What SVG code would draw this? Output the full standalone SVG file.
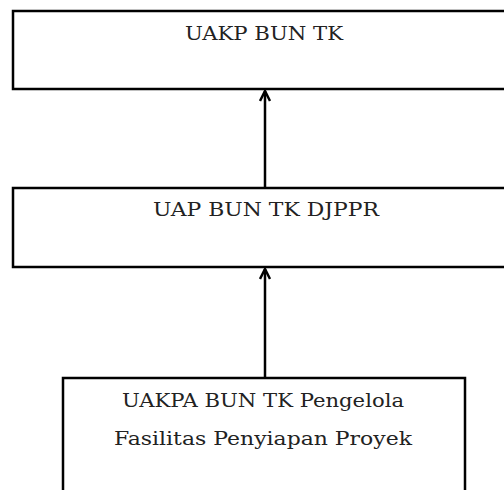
<svg xmlns="http://www.w3.org/2000/svg" width="504" height="490" viewBox="0 0 504 490">
<defs>
<marker id="ah" viewBox="0 0 10 10" refX="9" refY="5" markerWidth="5" markerHeight="5" orient="auto" markerUnits="strokeWidth">
<path d="M1,1 L9,5 L1,9" fill="none" stroke="#000" stroke-width="2"/>
</marker>
<style>
.box{fill:#fff;stroke:#000;stroke-width:2.5}
.lbl{font-family:"DejaVu Serif","Liberation Serif",serif;font-size:19px;fill:#222;text-anchor:middle}
.conn{stroke:#000;stroke-width:2.5;fill:none}
</style>
</defs>
<rect width="504" height="490" fill="#fff"/>
<g id="node-uakp">
<rect class="box" x="13" y="11" width="500" height="78"/>
<text class="lbl" x="264" y="40" textLength="158" lengthAdjust="spacingAndGlyphs">UAKP BUN TK</text>
</g>
<g id="node-uap">
<rect class="box" x="13" y="188" width="500" height="79"/>
<text class="lbl" x="266" y="216" textLength="226" lengthAdjust="spacingAndGlyphs">UAP BUN TK DJPPR</text>
</g>
<g id="node-uakpa">
<rect class="box" x="63" y="378" width="402" height="130"/>
<text class="lbl" x="263" y="407" textLength="282" lengthAdjust="spacingAndGlyphs">UAKPA BUN TK Pengelola</text>
<text class="lbl" x="263" y="445" textLength="298" lengthAdjust="spacingAndGlyphs">Fasilitas Penyiapan Proyek</text>
</g>
<g id="connectors">
<line class="conn" x1="265" y1="188" x2="265" y2="91" marker-end="url(#ah)"/>
<line class="conn" x1="265" y1="378" x2="265" y2="269" marker-end="url(#ah)"/>
</g>
</svg>
